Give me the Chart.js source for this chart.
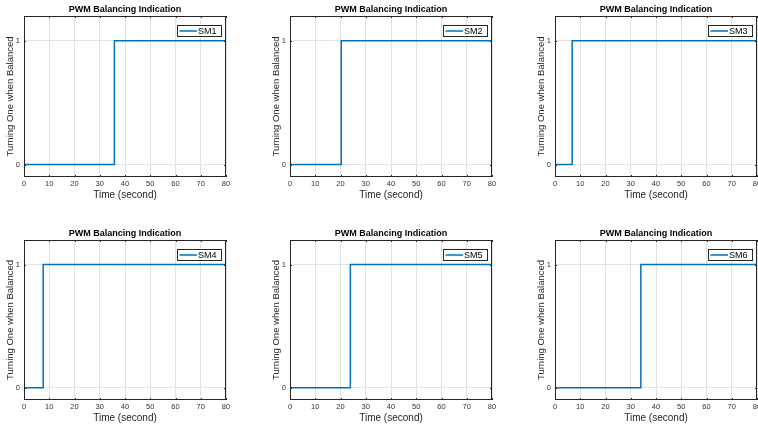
<!DOCTYPE html>
<html>
<head>
<meta charset="utf-8">
<script src="https://cdn.jsdelivr.net/npm/chart.js@4"></script>
<style>
  html, body { margin: 0; padding: 0; background: #fff; }
  body { width: 758px; height: 429px; position: relative; overflow: hidden; }
  canvas { position: absolute; }
</style>
</head>
<body>
<script>
// data
const seriesNames = ['SM1', 'SM2', 'SM3', 'SM4', 'SM5', 'SM6'];
const switchTimes = [35.8, 20.3, 6.8, 7.6, 23.9, 34.0]; // moment each one turns balanced (s)
const stateBefore = 0;
const stateAfter = 1;
const endTime = 80;
const xTicks = [0, 10, 20, 30, 40, 50, 60, 70, 80];
const yTicks = [0, 1];

const FONT = "'Liberation Sans', Arial, Helvetica, sans-serif";
const BLUE = '#0072BD';

// plot area placement (pixels)
const colLeft = [24, 290, 555];
const rowTop = [16, 240];
const rowPlotH = [161, 160];
const plotW = 202;
const yAxisW = 24, titleH = 16, xAxisH = 26, padRight = 8;

// box, inner ticks and legend like the MATLAB figure
const matlabBox = {
  id: 'matlabBox',
  afterDraw(chart) {
    const ctx = chart.ctx;
    const a = chart.chartArea;
    const xs = chart.scales.x, ys = chart.scales.y;
    ctx.save();
    ctx.strokeStyle = '#262626';
    ctx.lineWidth = 1;
    ctx.strokeRect(Math.round(a.left) + 0.5, Math.round(a.top) + 0.5,
      Math.round(a.right - a.left) - 1, Math.round(a.bottom - a.top) - 1);
    ctx.beginPath();
    xTicks.forEach(v => {
      const px = Math.round(xs.getPixelForValue(v)) + 0.5;
      ctx.moveTo(px, a.bottom); ctx.lineTo(px, a.bottom - 2);
      ctx.moveTo(px, a.top); ctx.lineTo(px, a.top + 2);
    });
    yTicks.forEach(v => {
      const py = Math.round(ys.getPixelForValue(v)) + 0.5;
      ctx.moveTo(a.left, py); ctx.lineTo(a.left + 2, py);
      ctx.moveTo(a.right, py); ctx.lineTo(a.right - 2, py);
    });
    ctx.stroke();

    // legend
    const ds = chart.data.datasets[0];
    ctx.font = '9px ' + FONT;
    const tw = ctx.measureText(ds.label).width;
    const bw = Math.round(22 + tw + 3), bh = 11;
    const bx = Math.round(a.right - 5 - bw), by = Math.round(a.top + 9);
    ctx.fillStyle = '#fff';
    ctx.fillRect(bx, by, bw, bh);
    ctx.strokeStyle = '#262626';
    ctx.strokeRect(bx + 0.5, by + 0.5, bw, bh);
    ctx.strokeStyle = ds.borderColor;
    ctx.lineWidth = 1.5;
    ctx.beginPath();
    ctx.moveTo(bx + 2.5, by + bh / 2 + 0.5);
    ctx.lineTo(bx + 20, by + bh / 2 + 0.5);
    ctx.stroke();
    ctx.fillStyle = '#000';
    ctx.textBaseline = 'middle';
    ctx.fillText(ds.label, bx + 21, by + bh / 2 + 1);
    ctx.restore();
  }
};

seriesNames.forEach((name, i) => {
  const col = i % 3, row = Math.floor(i / 3);
  const canvas = document.createElement('canvas');
  const w = yAxisW + plotW + padRight;
  const h = titleH + rowPlotH[row] + xAxisH;
  canvas.width = w; canvas.height = h;
  canvas.style.left = (colLeft[col] - yAxisW) + 'px';
  canvas.style.top = (rowTop[row] - titleH) + 'px';
  canvas.style.width = w + 'px'; canvas.style.height = h + 'px';
  document.body.appendChild(canvas);

  const points = [
    { x: 0, y: stateBefore },
    { x: switchTimes[i], y: stateAfter },
    { x: endTime, y: stateAfter }
  ];

  new Chart(canvas.getContext('2d'), {
    type: 'line',
    data: {
      datasets: [{
        label: name,
        data: points,
        borderColor: BLUE,
        borderWidth: 1.5,
        pointRadius: 0,
        stepped: true,
        fill: false
      }]
    },
    options: {
      responsive: false,
      animation: false,
      devicePixelRatio: 1,
      layout: { padding: { top: 0, left: 0, bottom: 0, right: padRight } },
      plugins: {
        legend: { display: false },
        tooltip: { enabled: false },
        title: {
          display: true,
          text: 'PWM Balancing Indication',
          fullSize: false,
          color: '#000',
          font: { family: FONT, size: 9, weight: 'bold' },
          padding: { top: 4, bottom: 1.2 }
        }
      },
      scales: {
        x: {
          type: 'linear',
          min: 0, max: endTime,
          afterFit(scale) { scale.height = xAxisH; },
          afterBuildTicks(scale) { scale.ticks = xTicks.map(v => ({ value: v })); },
          border: { display: false },
          grid: { color: '#e2e2e2', lineWidth: 1, drawTicks: false },
          ticks: {
            color: '#333', padding: 2.5, maxRotation: 0, autoSkip: false,
            font: { family: FONT, size: 7.5 }
          },
          title: {
            display: true, text: 'Time (second)', color: '#262626',
            font: { family: FONT, size: 10 }, padding: { top: 0, bottom: 1.5 }
          }
        },
        y: {
          min: -0.1, max: 1.2,
          afterFit(scale) { scale.width = yAxisW; },
          afterBuildTicks(scale) { scale.ticks = yTicks.map(v => ({ value: v })); },
          border: { display: false },
          grid: { color: '#e2e2e2', lineWidth: 1, drawTicks: false },
          ticks: {
            color: '#333', padding: 4,
            font: { family: FONT, size: 7.5 }
          },
          title: {
            display: true, text: 'Turning One when Balanced', color: '#262626',
            font: { family: FONT, size: 9.5 }, padding: { top: 5, bottom: 0 }
          }
        }
      }
    },
    plugins: [matlabBox]
  });
});
</script>
</body>
</html>
